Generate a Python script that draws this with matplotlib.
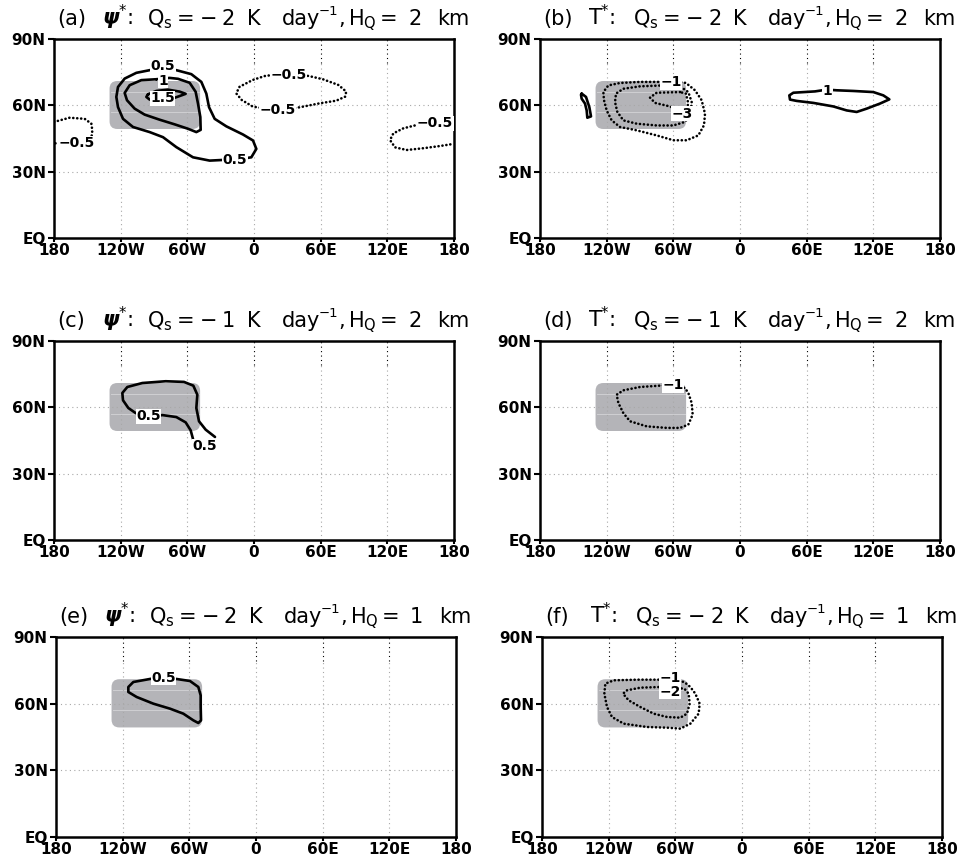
import matplotlib.pyplot as plt
from matplotlib.patches import FancyBboxPatch

# ---- data (lon in degrees east, lat in degrees north) ----
# forcing region (shaded)
box_lon = [-130.0, -48.5]
box_lat = [49.3, 71.0]

xtick_vals = [-180, -120, -60, 0, 60, 120, 180]
xtick_text = ["180", "120W", "60W", "0", "60E", "120E", "180"]
ytick_vals = [0, 30, 60, 90]
ytick_text = ["EQ", "30N", "60N", "90N"]

# (a) psi*, Q=-2, H=2
a_p05_lon = [-90.9, -105.9, -116.4, -122.4, -123.9, -122.4, -117.9, -108.9, -93.9, -81.9, -69.9,
             -54.9, -39.9, -27.9, -15.9, -2.4, 2.1, -0.9, -9.9, -24.9, -35.4, -40.5, -42.9, -47.4,
             -56.4, -69.9, -78.9]
a_p05_lat = [76.2, 74.7, 72.1, 68.3, 63.8, 59.2, 53.9, 50.2, 47.9, 45.6, 41.1,
             36.5, 35.0, 35.3, 35.4, 36.5, 40.3, 44.1, 46.8, 50.5, 53.9, 59.2, 65.3, 70.6,
             74.1, 75.9, 76.4]
a_p10_lon = [-87.9, -101.4, -111.9, -116.4, -114.3, -107.4, -98.4, -84.9, -71.4, -59.4, -51.9,
             -48.0, -48.3, -50.4, -52.5, -57.9, -68.4, -75.9]
a_p10_lat = [71.8, 71.4, 69.1, 65.6, 62.3, 58.5, 55.8, 53.5, 51.4, 49.4, 47.9,
             48.9, 54.7, 60.8, 66.1, 70.2, 72.0, 72.4]
a_p15_lon = [-95.4, -87.9, -77.4, -66.9, -61.5, -67.5, -74.4, -84.9, -93.9, -96.9]
a_p15_lat = [65.0, 66.5, 67.1, 66.2, 65.2, 64.1, 62.9, 62.3, 62.6, 63.8]
a_n05w_lon = [-180.0, -166.0, -152.4, -146.4, -145.5, -146.4, -155.0, -165.0, -180.0]
a_n05w_lat = [52.5, 54.4, 53.9, 51.7, 48.6, 45.0, 43.3, 43.0, 42.8]
a_n05e_lon = [180.0, 162.9, 146.4, 134.4, 125.4, 122.4, 126.9, 137.4, 152.4, 167.4, 180.0]
a_n05e_lat = [52.5, 51.9, 51.1, 49.6, 47.3, 44.3, 41.0, 39.8, 40.6, 41.6, 42.6]
a_n05m_lon = [20, 35, 49, 62, 76, 83, 82, 74, 59, 41, 24, 10, -1, -11, -16, -13, -1, 10]
a_n05m_lat = [73.9, 73.8, 73.3, 71.8, 69.2, 66.2, 63.9, 62.1, 60.9, 59.1, 58.0, 58.6, 59.4,
              62.4, 65.4, 68.4, 71.5, 73.3]

# (b) T*, Q=-2, H=2
b_p1w_lon = [-142.5, -138.6, -135.6, -134.1, -137.4, -138.0, -139.5, -142.5, -143.1]
b_p1w_lat = [65.3, 63.8, 59.2, 55.0, 54.4, 57.7, 60.8, 63.0, 64.8]
b_p1e_lon = [78, 67.5, 48, 44.4, 45, 51, 66, 84, 96, 105, 114, 126, 134.4, 129, 120, 102, 87]
b_p1e_lat = [67.1, 66.3, 65.7, 64.5, 62.6, 62.0, 61.1, 59.5, 57.7, 57.0, 58.5, 60.8, 62.7,
             64.5, 66.0, 66.5, 66.8]
b_n1_lon = [-63, -72, -90, -108, -118.5, -123, -122.4, -120, -115.5, -108, -93, -75, -60, -48,
            -37.5, -32.4, -31.5, -34.5, -40.5, -48.6, -56]
b_n1_lat = [70.5, 70.6, 70.6, 70.1, 69.0, 66.0, 62.3, 57.7, 53.2, 50.2, 48.7, 46.4, 44.2, 44.2,
            46.4, 51.0, 56.2, 62.3, 66.8, 70.1, 70.8]
b_n2_lon = [-69, -90, -105, -111.6, -112.5, -110.4, -105, -93, -75, -60, -49.5, -44.4, -43.5,
            -46.5, -54]
b_n2_lat = [69.0, 68.6, 67.5, 65.3, 61.5, 57.0, 53.2, 51.7, 50.9, 50.9, 52.5, 56.2, 61.5,
            66.0, 68.6]
b_n3_lon = [-54, -75, -81, -76.5, -63, -55.5, -49.5, -46.5, -48.6]
b_n3_lat = [66.0, 65.7, 63.5, 61.1, 59.5, 57.7, 56.5, 60.8, 65.3]

# (c) psi*, Q=-1, H=2
c_p05_lon = [-54.9, -57, -61.5, -69.9, -82.5, -94.5, -106.5, -113.1, -117.9, -118.5, -114,
             -100.5, -79.5, -63, -54.6, -51, -51.9, -49.5, -43.5, -35.1]
c_p05_lat = [45.7, 49.6, 53.2, 55.6, 56.5, 55.6, 57.4, 59.7, 63.2, 66.5, 69.2,
             71.0, 71.8, 71.5, 69.8, 65.7, 59.7, 53.7, 49.9, 46.6]

# (d) T*, Q=-1, H=2
d_n1_lon = [-58.5, -72, -90, -105, -111, -109.5, -105, -99, -84, -66, -54, -46.5, -42.6,
            -43.5, -46.5, -49.5]
d_n1_lat = [70.0, 69.8, 69.2, 67.7, 65.7, 62.0, 57.4, 53.7, 51.4, 50.7, 50.7, 52.2, 56.7,
            62.0, 66.5, 68.7]

# (e) psi*, Q=-2, H=1
e_p05_lon = [-83.4, -93.9, -110.4, -114.9, -114.9, -107.4, -92.4, -77.4, -65.4, -56.4, -51.9,
             -49.5, -49.8, -49.8, -51.9, -59.4, -71.4]
e_p05_lat = [71.7, 71.25, 69.75, 67.5, 65.25, 63.0, 60.0, 57.75, 55.5, 52.5, 51.3,
             52.5, 58.5, 63.75, 67.5, 70.2, 71.1]

# (f) T*, Q=-2, H=1
f_n1_lon = [-64.5, -73.5, -94.5, -115.5, -123, -123.9, -121.5, -117, -106.5, -85.5, -67.5,
            -55.5, -46.5, -39, -38.1, -42, -46.5, -51.9]
f_n1_lat = [70.9, 70.8, 70.8, 70.5, 69.0, 64.5, 58.5, 54.0, 51.0, 49.5, 49.2,
            48.75, 51.0, 55.5, 60.0, 64.5, 67.5, 69.75]
f_n2_lon = [-64.5, -73.5, -91.5, -103.5, -107.1, -102, -91.5, -79.5, -67.5, -55.5, -49.5,
            -47.1, -48, -51.9]
f_n2_lat = [67.3, 67.5, 67.2, 66.0, 64.5, 61.5, 58.5, 55.5, 54.0, 53.7, 55.5,
            60.0, 64.5, 66.75]

# ---- styles ----
SOLID = dict(color="black", lw=1.9, solid_joinstyle="round", solid_capstyle="round")
DOTTED = dict(color="black", lw=1.9, linestyle=(0, (0.05, 1.45)), dash_capstyle="round")
GREY = "#b4b4b8"
MINUS = "\u2212"


def closed(lon, lat):
    return list(lon) + [lon[0]], list(lat) + [lat[0]]


panels = [
    dict(pos=(54, 39, 199), tag="(a)", var=r"$\boldsymbol{\psi}^{*}$:", q="2", h="2",
         lines=[(a_p05_lon, a_p05_lat, SOLID, True), (a_p10_lon, a_p10_lat, SOLID, True),
                (a_p15_lon, a_p15_lat, SOLID, True), (a_n05w_lon, a_n05w_lat, DOTTED, False),
                (a_n05e_lon, a_n05e_lat, DOTTED, False), (a_n05m_lon, a_n05m_lat, DOTTED, True)],
         labels=[(-82, 71.2, "1"), (-82, 77.6, "0.5"), (-82.5, 63.2, "1.5"), (-17, 35.3, "0.5"),
                 (-160, 42.8, MINUS + "0.5"), (31, 73.7, MINUS + "0.5"), (21, 57.9, MINUS + "0.5"),
                 (163, 51.9, MINUS + "0.5")]),
    dict(pos=(540, 39, 199), tag="(b)", var=r"T$^{*}$:", q="2", h="2",
         lines=[(b_p1w_lon, b_p1w_lat, SOLID, True), (b_p1e_lon, b_p1e_lat, SOLID, True),
                (b_n1_lon, b_n1_lat, DOTTED, True), (b_n2_lon, b_n2_lat, DOTTED, True),
                (b_n3_lon, b_n3_lat, DOTTED, True)],
         labels=[(-62, 70.4, MINUS + "1"), (-52.5, 56.3, MINUS + "3"), (78.5, 66.7, "1")]),
    dict(pos=(54, 341, 199), tag="(c)", var=r"$\boldsymbol{\psi}^{*}$:", q="1", h="2",
         lines=[(c_p05_lon, c_p05_lat, SOLID, False)],
         labels=[(-94.8, 55.9, "0.5"), (-44.5, 42.4, "0.5")]),
    dict(pos=(540, 341, 199), tag="(d)", var=r"T$^{*}$:", q="1", h="2",
         lines=[(d_n1_lon, d_n1_lat, DOTTED, True)],
         labels=[(-60, 70.0, MINUS + "1")]),
    dict(pos=(56, 637, 200), tag="(e)", var=r"$\boldsymbol{\psi}^{*}$:", q="2", h="1",
         lines=[(e_p05_lon, e_p05_lat, SOLID, True)],
         labels=[(-83.4, 71.7, "0.5")]),
    dict(pos=(542, 637, 200), tag="(f)", var=r"T$^{*}$:", q="2", h="1",
         lines=[(f_n1_lon, f_n1_lat, DOTTED, True), (f_n2_lon, f_n2_lat, DOTTED, True)],
         labels=[(-64.5, 65.3, MINUS + "2"), (-64.5, 71.6, MINUS + "1")]),
]

# title pieces: start (px from axes left edge), font size, baseline shift (pt)
title_x = [3, 48, 93, 123, 146, 168, 193, 228, 265, 284, 294, 326, 354, 383]
title_fs = [15, 15, 15, 15, 15, 15, 15, 15, 9.5, 15, 15, 15, 15, 15]
title_dy = [0, 0, 0, 0, 0, 0, 0, 0, 7, 0, 0, 0, 0, 0]

W, H = 960, 867
fig = plt.figure(figsize=(W / 100, H / 100), dpi=100)

for p in panels:
    left, top, hgt = p["pos"]
    ax = fig.add_axes([left / W, 1 - (top + hgt) / H, 400 / W, hgt / H])
    ax.set_xlim(-180, 180)
    ax.set_ylim(0, 90)

    # forcing region
    ax.add_patch(FancyBboxPatch((box_lon[0], box_lat[0]), box_lon[1] - box_lon[0],
                                box_lat[1] - box_lat[0],
                                boxstyle="round,pad=0,rounding_size=7", mutation_aspect=0.5,
                                facecolor=GREY, edgecolor="none", zorder=1))
    for yl in (57.2, 66.0):
        ax.plot([box_lon[0] + 1, box_lon[1] - 1], [yl, yl], color="#cfcfd2", lw=0.7, zorder=1.1)

    # grid
    for xv in xtick_vals[1:-1]:
        ax.plot([xv, xv], [0, 79], color="#a8a8a8", lw=0.8, linestyle=(0, (1, 3)), zorder=1.5)
        ax.plot([xv, xv], [79, 90], color="black", lw=0.8, linestyle=(0, (1, 3)), zorder=1.5)
    for yv in ytick_vals[1:-1]:
        ax.plot([-180, 180], [yv, yv], color="#a8a8a8", lw=0.8, linestyle=(0, (1, 3)), zorder=1.5)

    # contours
    for lon, lat, style, is_closed in p["lines"]:
        if is_closed:
            lon, lat = closed(lon, lat)
        ax.plot(lon, lat, zorder=3, **style)

    for lx, ly, txt in p["labels"]:
        ax.text(lx, ly, txt, ha="center", va="center", fontsize=10, fontweight="bold", zorder=4,
                bbox=dict(facecolor="white", edgecolor="none", pad=0.3))

    ax.set_xticks(xtick_vals)
    ax.set_xticklabels(xtick_text)
    ax.set_yticks(ytick_vals)
    ax.set_yticklabels(ytick_text)
    ax.tick_params(axis="x", length=3, width=1.5, pad=0.5, direction="out")
    ax.tick_params(axis="y", length=4, width=1.5, pad=2, direction="out")
    for lab in ax.get_xticklabels() + ax.get_yticklabels():
        lab.set_fontsize(11)
        lab.set_fontweight("bold")
    for sp in ax.spines.values():
        sp.set_linewidth(1.8)

    words = [p["tag"], p["var"], r"Q$_{\rm s}$", "=", MINUS, p["q"], "K", "day", MINUS + "1", ",",
             r"H$_{\rm Q}$", "=", p["h"], "km"]
    for xo, fs, dy, wd in zip(title_x, title_fs, title_dy, words):
        ax.annotate(wd, xy=(0, 1), xycoords="axes fraction", xytext=(xo * 0.72, 10 + dy),
                    textcoords="offset points", ha="left", va="baseline", fontsize=fs)

fig.savefig("out.png", dpi=100)
plt.close(fig)
